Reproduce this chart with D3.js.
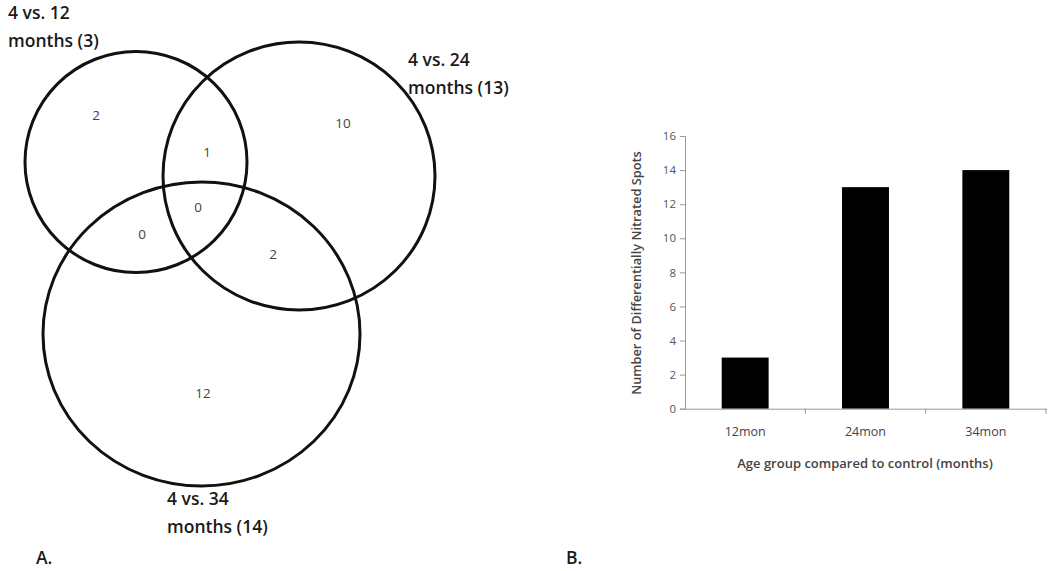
<!DOCTYPE html>
<html><head><meta charset="utf-8">
<script src="https://cdn.jsdelivr.net/npm/d3@7"></script>
<style>body{margin:0;background:#fff}svg{display:block}</style>
</head><body>
<svg id="c" width="1050" height="571"></svg>
<script>
// ---- data ----
const vennSets = ["4 vs. 12 months (3)", "4 vs. 24 months (13)", "4 vs. 34 months (14)"];
const vennSetLines = [["4 vs. 12", "months (3)"], ["4 vs. 24", "months (13)"], ["4 vs. 34", "months (14)"]];
const vennRegions = ["12 only", "24 only", "34 only", "12&24", "12&34", "24&34", "all"];
const vennCounts = [2, 10, 12, 1, 0, 2, 0];
const categories = ["12mon", "24mon", "34mon"];
const spots = [3, 13, 14];
const yTicks = [0, 2, 4, 6, 8, 10, 12, 14, 16];
const xTitle = "Age group compared to control (months)";
const yTitle = "Number of Differentially Nitrated Spots";
const panelLabels = ["A.", "B."];

// ---- layout ----
const font = "'Open Sans', Lato, sans-serif";
const svg = d3.select("#c");
const circles = [
  {cx: 136, cy: 162, rx: 111, ry: 110.5},
  {cx: 299, cy: 176, rx: 136, ry: 134},
  {cx: 201.5, cy: 334, rx: 158.5, ry: 152}
];
const setLabelPos = [[8, 19, 47], [408, 66, 94], [167, 505, 533]];
const regionPos = [[96, 115], [343, 123], [203, 393], [207, 152], [142, 234], [273, 254], [198, 207]];

const venn = svg.append("g");
venn.selectAll("ellipse").data(circles).join("ellipse")
  .attr("cx", d => d.cx).attr("cy", d => d.cy).attr("rx", d => d.rx).attr("ry", d => d.ry)
  .attr("fill", "none").attr("stroke", "#111").attr("stroke-width", 3);
venn.selectAll("text.cnt").data(vennCounts).join("text").attr("class", "cnt")
  .attr("x", (d, i) => regionPos[i][0]).attr("y", (d, i) => regionPos[i][1])
  .attr("text-anchor", "middle").attr("dominant-baseline", "central")
  .attr("font-family", font).attr("font-size", 13.5).attr("fill", "#444").text(d => d);
vennSetLines.forEach((lines, i) => {
  lines.forEach((t, j) => {
    venn.append("text").attr("x", setLabelPos[i][0]).attr("y", setLabelPos[i][1 + j])
      .attr("font-family", font).attr("font-weight", 600).attr("font-size", 17.5).attr("fill", "#1a1a1a").text(t);
  });
});
svg.append("text").attr("x", 36).attr("y", 564).attr("font-family", font).attr("font-weight", 600)
  .attr("font-size", 17.5).attr("fill", "#1a1a1a").text(panelLabels[0]);
svg.append("text").attr("x", 566).attr("y", 564).attr("font-family", font).attr("font-weight", 600)
  .attr("font-size", 17.5).attr("fill", "#1a1a1a").text(panelLabels[1]);

// ---- bar chart ----
const x0 = 685, x1 = 1046, yTop = 136, yBot = 408.7;
const x = d3.scaleBand().domain(categories).range([x0, x1]).paddingInner(0.61).paddingOuter(0.305);
const y = d3.scaleLinear().domain([0, 16]).range([yBot, yTop]);
const g = svg.append("g");
g.selectAll("rect").data(spots).join("rect")
  .attr("x", (d, i) => x(categories[i])).attr("width", x.bandwidth())
  .attr("y", d => y(d)).attr("height", d => y(0) - y(d)).attr("fill", "#000");

const yAxis = g.append("g").attr("transform", `translate(${x0},0)`)
  .call(d3.axisLeft(y).tickValues(yTicks).tickSize(5).tickPadding(4));
yAxis.select(".domain").attr("stroke", "#999");
yAxis.selectAll(".tick line").attr("stroke", "#999");
yAxis.selectAll("text").attr("font-family", font).attr("font-size", 11.5).attr("fill", "#555");

const xb = d3.scaleBand().domain(categories).range([x0, x1]);
const xAxis = g.append("g").attr("transform", `translate(0,${yBot})`)
  .call(d3.axisBottom(xb).tickSize(0).tickPadding(18));
xAxis.select(".domain").attr("stroke", "#999");
xAxis.selectAll("text").attr("font-family", font).attr("font-size", 12.5).attr("fill", "#444");
g.selectAll("line.xt").data(categories).join("line").attr("class", "xt")
  .attr("x1", d => xb(d) + xb.bandwidth()).attr("x2", d => xb(d) + xb.bandwidth())
  .attr("y1", yBot).attr("y2", yBot + 5).attr("stroke", "#999");

g.append("text").attr("x", 865).attr("y", 468).attr("text-anchor", "middle")
  .attr("font-family", font).attr("font-weight", 600).attr("font-size", 13).attr("fill", "#444").text(xTitle);
g.append("text").attr("transform", "translate(641,273) rotate(-90)").attr("text-anchor", "middle")
  .attr("font-family", font).attr("font-weight", 600).attr("font-size", 12.8).attr("fill", "#444").text(yTitle);
</script>
</body></html>
